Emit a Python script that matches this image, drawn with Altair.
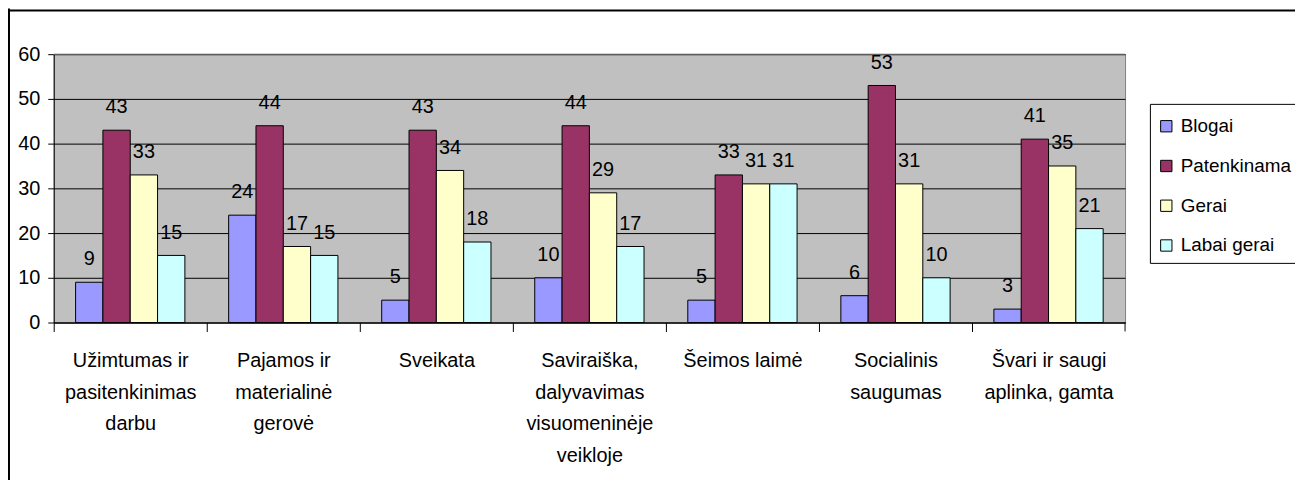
import altair as alt
import pandas as pd

categories = [
    "Užimtumas ir\npasitenkinimas\ndarbu",
    "Pajamos ir\nmaterialinė\ngerovė",
    "Sveikata",
    "Saviraiška,\ndalyvavimas\nvisuomeninėje\nveikloje",
    "Šeimos laimė",
    "Socialinis\nsaugumas",
    "Švari ir saugi\naplinka, gamta",
]
series = ["Blogai", "Patenkinama", "Gerai", "Labai gerai"]
blogai = [9, 24, 5, 10, 5, 6, 3]
patenkinama = [43, 44, 43, 44, 33, 53, 41]
gerai = [33, 17, 34, 29, 31, 31, 35]
labai_gerai = [15, 15, 18, 17, 31, 10, 21]
colors = ["#9999FF", "#993366", "#FFFFCC", "#CCFFFF"]
y_ticks = [0, 10, 20, 30, 40, 50, 60]

values_by_series = [blogai, patenkinama, gerai, labai_gerai]
rows = []
for s, vals in zip(series, values_by_series):
    for c, v in zip(categories, vals):
        rows.append({"cat": c, "series": s, "value": v})
df = pd.DataFrame(rows)

W, H = 1078, 270
STEP = W / len(categories)
FONT = "Liberation Sans"

x_enc = alt.X(
    "cat:N",
    sort=categories,
    scale=alt.Scale(paddingInner=0.286, paddingOuter=0.143),
    axis=alt.Axis(
        title=None,
        labelAngle=0,
        labelFont=FONT,
        labelFontSize=20,
        labelColor="black",
        labelLineHeight=32,
        labelExpr="split(datum.label, '\\n')",
        labelBaseline="top",
        labelPadding=19,
        labelLimit=0,
        ticks=True,
        tickOffset=-STEP / 2,
        labelOffset=STEP / 2,
        tickSize=9,
        tickColor="black",
        tickWidth=1,
        domainColor="black",
        grid=False,
    ),
)
xoff_enc = alt.XOffset("series:N", sort=series, scale=alt.Scale(paddingInner=0, paddingOuter=0))
y_enc = alt.Y(
    "value:Q",
    scale=alt.Scale(domain=[0, 60], nice=False),
    axis=alt.Axis(
        values=y_ticks,
        title=None,
        labelFont=FONT,
        labelFontSize=20,
        labelColor="black",
        labelPadding=8,
        tickSize=6,
        tickColor="black",
        domainColor="black",
        grid=True,
        gridColor="black",
        gridOpacity=1,
        gridWidth=1,
    ),
)

bars = alt.Chart(df).mark_bar(stroke="black", strokeWidth=1).encode(
    x=x_enc,
    xOffset=xoff_enc,
    y=y_enc,
    color=alt.Color(
        "series:N",
        sort=series,
        scale=alt.Scale(domain=series, range=colors),
        legend=alt.Legend(
            orient="none",
            legendX=1103,
            legendY=50,
            title=" ",
            titleFontSize=1,
            titlePadding=5,
            fillColor="white",
            strokeColor="black",
            padding=7,
            rowPadding=20,
            symbolType="square",
            symbolSize=130,
            symbolStrokeColor="black",
            symbolStrokeWidth=1,
            symbolOpacity=1,
            labelFont=FONT,
            labelFontSize=19,
            labelColor="black",
            labelOffset=5,
            labelLimit=0,
        ),
    ),
)

labels = alt.Chart(df).mark_text(
    dy=-17, baseline="alphabetic", font=FONT, fontSize=20, color="black"
).encode(
    x=alt.X("cat:N", sort=categories),
    xOffset=alt.XOffset("series:N", sort=series),
    y=alt.Y("value:Q"),
    text=alt.Text("value:Q"),
)

one = pd.DataFrame({"a": [0]})
top_grid = alt.Chart(one).mark_rule(color="#808080", strokeWidth=1).encode(
    y=alt.datum(60), x=alt.value(0), x2=alt.value(W)
)
last_tick = alt.Chart(one).mark_rule(color="black", strokeWidth=1).encode(
    x=alt.value(W), y=alt.value(H), y2=alt.value(H + 9)
)
left_border = alt.Chart(one).mark_rule(color="black", strokeWidth=2).encode(
    x=alt.value(-45), y=alt.value(-46), y2=alt.value(H + 300)
)
top_border = alt.Chart(one).mark_rule(color="black", strokeWidth=2).encode(
    x=alt.value(-46), x2=alt.value(W + 400), y=alt.value(-44)
)

chart = alt.layer(bars, labels, top_grid, last_tick, left_border, top_border).properties(
    width=W,
    height=H,
    autosize=alt.AutoSizeParams(type="none"),
    padding={"left": 46, "top": 45, "right": 171, "bottom": 157},
    background="white",
).configure_view(
    fill="#C0C0C0", stroke="#808080", strokeWidth=1
)

chart.save("out.html", embed_options={"renderer": "svg", "actions": False})
